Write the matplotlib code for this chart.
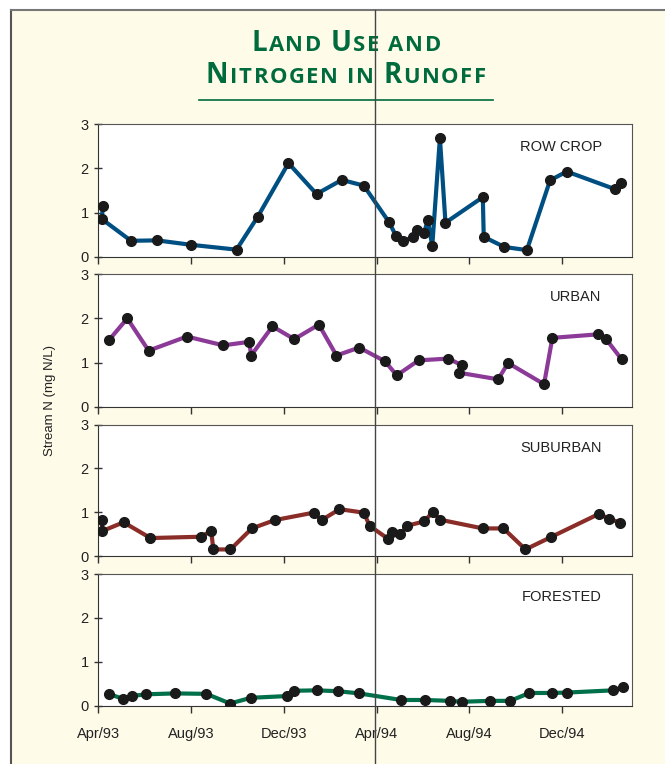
"""
Land use and nitrogen in runoff: four stacked panels of stream N
(mg N/L) for row crop, urban, suburban and forested watersheds.
"""

import matplotlib.pyplot as plt
from matplotlib.lines import Line2D
from matplotlib.patches import Rectangle
from matplotlib.offsetbox import TextArea, HPacker, AnchoredOffsetbox

# ──────────────────────────────────────────────────────────────
#  Data  (x = months since 1 Apr 1993)
# ──────────────────────────────────────────────────────────────
ROW_X = [0.19, 0.16, 1.41, 2.53, 3.99, 5.96, 6.88, 8.20, 9.41, 10.50,
         11.45, 12.54, 12.84, 13.15, 13.58, 13.73, 14.04, 14.21, 14.40,
         14.73, 14.97, 16.58, 16.62, 17.51, 18.48, 19.48, 20.20, 22.28, 22.53]
ROW_Y = [1.16, 0.85, 0.36, 0.37, 0.27, 0.16, 0.91, 2.12, 1.42, 1.74,
         1.61, 0.78, 0.47, 0.35, 0.45, 0.60, 0.53, 0.83, 0.24,
         2.69, 0.77, 1.35, 0.45, 0.22, 0.15, 1.73, 1.93, 1.53, 1.67]

URBAN_X = [0.46, 1.25, 2.17, 3.82, 5.39, 6.51, 6.59, 7.51, 8.45, 9.51,
           10.27, 11.25, 12.36, 12.87, 13.81, 15.10, 15.67, 15.56, 17.24,
           17.67, 19.22, 19.58, 21.56, 21.90, 22.57]
URBAN_Y = [1.51, 2.00, 1.27, 1.59, 1.39, 1.47, 1.16, 1.82, 1.53, 1.86,
           1.16, 1.34, 1.03, 0.71, 1.05, 1.09, 0.94, 0.77, 0.62,
           0.99, 0.51, 1.56, 1.64, 1.53, 1.07]

SUBURBAN_X = [0.16, 0.17, 1.09, 2.25, 4.41, 4.87, 4.96, 5.70, 6.62, 7.61,
              9.28, 9.63, 10.40, 11.45, 11.70, 12.50, 12.66, 13.03, 13.31,
              14.05, 14.43, 14.73, 16.58, 17.47, 18.42, 19.51, 21.58, 22.03,
              22.50]
SUBURBAN_Y = [0.82, 0.57, 0.77, 0.41, 0.44, 0.57, 0.15, 0.15, 0.63, 0.82,
              0.99, 0.82, 1.07, 0.99, 0.69, 0.39, 0.55, 0.50, 0.69,
              0.79, 1.01, 0.83, 0.63, 0.63, 0.15, 0.43, 0.96, 0.85,
              0.76]

FOREST_X = [0.44, 1.05, 1.44, 2.06, 3.32, 4.66, 5.68, 6.58, 8.15, 8.45,
            9.41, 10.34, 11.25, 13.06, 14.09, 15.16, 15.67, 16.90, 17.76,
            18.59, 19.57, 20.23, 22.21, 22.63]
FOREST_Y = [0.27, 0.16, 0.22, 0.26, 0.28, 0.27, 0.05, 0.18, 0.22, 0.34,
            0.35, 0.33, 0.28, 0.13, 0.13, 0.11, 0.09, 0.11, 0.11,
            0.29, 0.29, 0.30, 0.35, 0.42]

PANELS = [
    ("ROW CROP", ROW_X, ROW_Y, "#004f82"),
    ("URBAN", URBAN_X, URBAN_Y, "#8c3a98"),
    ("SUBURBAN", SUBURBAN_X, SUBURBAN_Y, "#8a2c27"),
    ("FORESTED", FOREST_X, FOREST_Y, "#00704a"),
]

TICK_POS = [0, 4, 8, 12, 16, 20]
TICK_LABELS = ["Apr/93", "Aug/93", "Dec/93", "Apr/94", "Aug/94", "Dec/94"]

# ──────────────────────────────────────────────────────────────
#  Layout
# ──────────────────────────────────────────────────────────────
W, H = 665, 764
CREAM = "#fefbe8"
GREEN = "#006b3c"
plt.rcParams["font.family"] = ["Liberation Sans", "DejaVu Sans"]

fig = plt.figure(figsize=(W / 100, H / 100), dpi=100, facecolor="white")

# cream page with border on top and left
fig.add_artist(Rectangle((11 / W, 0), 1 - 11 / W, 1 - 10 / H,
                         transform=fig.transFigure, facecolor=CREAM,
                         edgecolor="none", zorder=-10))
fig.add_artist(Line2D([11 / W, 11 / W], [0, 1 - 10 / H], color="#555555",
                      lw=1.5, transform=fig.transFigure))
fig.add_artist(Line2D([11 / W, 1], [1 - 10 / H, 1 - 10 / H], color="#777777",
                      lw=1.5, transform=fig.transFigure))

LEFT, RIGHT = 98.3 / W, 631.7 / W
PANEL_PIX = [(124.3, 256.7), (274.3, 406.7), (424.7, 556.0), (574.0, 705.7)]

for i, (name, xs, ys, color) in enumerate(PANELS):
    top, bot = PANEL_PIX[i]
    ax = fig.add_axes([LEFT, 1 - bot / H, RIGHT - LEFT, (bot - top) / H])
    ax.set_facecolor("white")
    ax.plot(xs, ys, color=color, lw=3, solid_joinstyle="round", zorder=2)
    ax.plot(xs, ys, "o", color="#1a1a1a", ms=7, zorder=3)
    ax.set_xlim(0, 23)
    ax.set_ylim(0, 3)
    ax.set_yticks([0, 1, 2, 3])
    ax.set_xticks(TICK_POS)
    if i == len(PANELS) - 1:
        ax.set_xticklabels(TICK_LABELS)
    else:
        ax.set_xticklabels([])
    ax.tick_params(axis="x", direction="out", length=5, width=1,
                   color="#333333", labelsize=10.5, labelcolor="#222222", pad=10)
    ax.tick_params(axis="y", direction="inout", length=6, width=1,
                   color="#333333", labelsize=10.5, labelcolor="#222222", pad=4)
    for side in ("left", "bottom"):
        ax.spines[side].set_color("#333333")
    for side in ("top", "right"):
        ax.spines[side].set_color("#555555")
    ax.text(1 - 30 / 533.4, 1 - 23 / (bot - top), name, transform=ax.transAxes,
            ha="right", va="center", fontsize=10.5, color="#222222")

fig.text(50 / W, 1 - 400 / H, "Stream N (mg N/L)", rotation=90,
         ha="center", va="center", fontsize=9.5, color="#222222")

# ──────────────────────────────────────────────────────────────
#  Small-caps title (letter-spaced, one box per character)
# ──────────────────────────────────────────────────────────────
def _title_line(parts, y_pix):
    boxes = []
    for text, big in parts:
        for ch in text:
            boxes.append(TextArea(ch, textprops=dict(
                fontsize=20 if big else 15.8, fontweight="bold", color=GREEN,
                family=["Open Sans", "DejaVu Sans"])))
    row = HPacker(children=boxes, align="baseline", pad=0, sep=1.2)
    box = AnchoredOffsetbox(loc="lower center", child=row, pad=0,
                            borderpad=0, frameon=False,
                            bbox_to_anchor=(346 / W, 1 - y_pix / H),
                            bbox_transform=fig.transFigure)
    fig.add_artist(box)


_title_line([("L", True), ("AND ", False), ("U", True), ("SE AND", False)], 58)
_title_line([("N", True), ("ITROGEN IN ", False), ("R", True), ("UNOFF", False)], 90)
fig.add_artist(Line2D([199 / W, 493 / W], [1 - 100 / H, 1 - 100 / H],
                      color=GREEN, lw=1.2, transform=fig.transFigure))

# page gutter line
fig.add_artist(Line2D([375 / W, 375 / W], [0, 1 - 10 / H], color="#444444",
                      lw=1.0, transform=fig.transFigure, zorder=10))

fig.savefig("out.png", dpi=100, facecolor=fig.get_facecolor())
